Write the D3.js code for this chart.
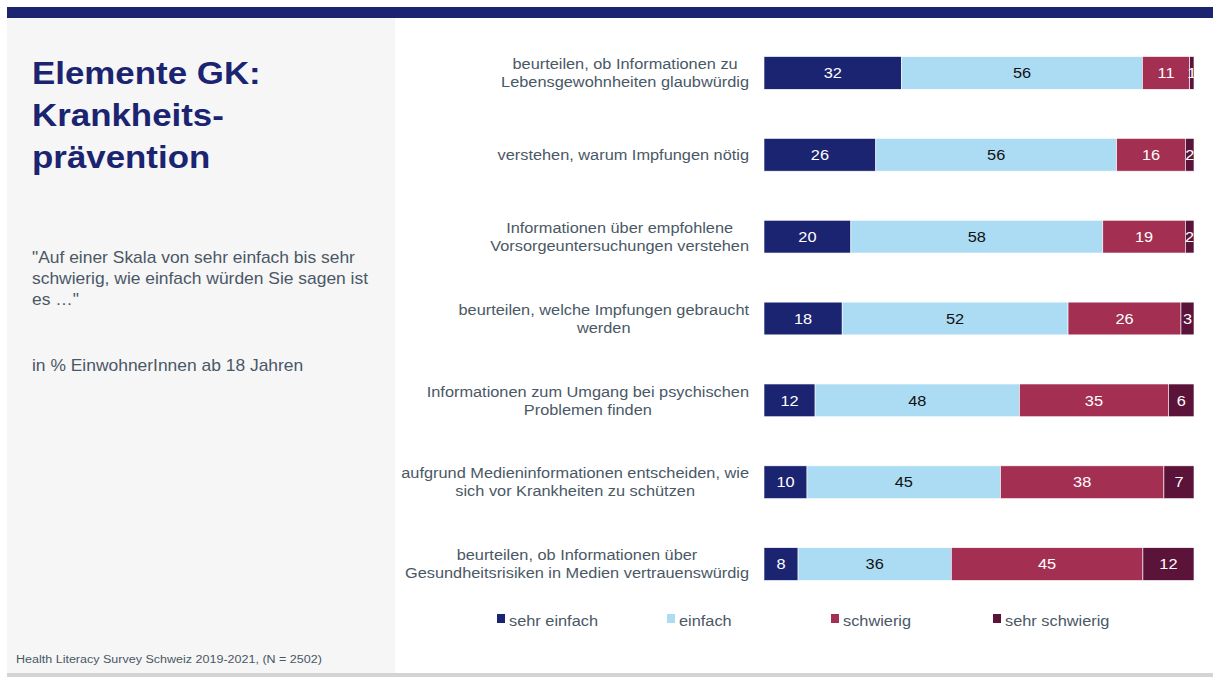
<!DOCTYPE html>
<html>
<head>
<meta charset="utf-8">
<script src="https://cdn.jsdelivr.net/npm/d3@7"></script>
<style>
  body { margin: 0; background: #fff; }
  svg { display: block; font-family: "Liberation Sans", Arial, sans-serif; }
</style>
</head>
<body>
<svg id="chart" width="1213" height="677"></svg>
<script>
// data
const categories = [
  ["beurteilen, ob Informationen zu", "Lebensgewohnheiten glaubwürdig"],
  ["verstehen, warum Impfungen nötig"],
  ["Informationen über empfohlene", "Vorsorgeuntersuchungen verstehen"],
  ["beurteilen, welche Impfungen gebraucht", "werden"],
  ["Informationen zum Umgang bei psychischen", "Problemen finden"],
  ["aufgrund Medieninformationen entscheiden, wie", "sich vor Krankheiten zu schützen"],
  ["beurteilen, ob Informationen über", "Gesundheitsrisiken in Medien vertrauenswürdig"]
];
const seriesNames = ["sehr einfach", "einfach", "schwierig", "sehr schwierig"];
const sehrEinfach = [32, 26, 20, 18, 12, 10, 8];
const einfach = [56, 56, 58, 52, 48, 45, 36];
const schwierig = [11, 16, 19, 26, 35, 38, 45];
const sehrSchwierig = [1, 2, 2, 3, 6, 7, 12];
const colors = ["#1b2470", "#acdcf3", "#a33053", "#5c1339"];
const labelColors = ["#fff", "#111", "#fff", "#fff"];

const textColor = "#4a5866";
const stretch = 1.09; // reference text is a bit wider than Liberation Sans
const svg = d3.select("#chart");

// a text anchored at (x, y), stretched horizontally
const stext = (parent, x, y) =>
  parent.append("g")
    .attr("transform", `translate(${x},${y}) scale(${stretch},1)`)
    .append("text");

// frame
svg.append("rect").attr("x", 7).attr("y", 18).attr("width", 388).attr("height", 655).attr("fill", "#f6f6f6");
svg.append("rect").attr("x", 7).attr("y", 7).attr("width", 1206).attr("height", 11).attr("fill", "#1b2470");
svg.append("rect").attr("x", 7).attr("y", 673).attr("width", 1206).attr("height", 4).attr("fill", "#d4d4d4");

// left panel text
const title = stext(svg, 32, 84)
  .attr("fill", "#1b2470")
  .attr("font-size", 32)
  .attr("font-weight", "bold");
["Elemente GK:", "Krankheits-", "prävention"].forEach((t, i) => {
  title.append("tspan").attr("x", 0).attr("dy", i === 0 ? 0 : 42).text(t);
});

const quote = stext(svg, 32, 263)
  .attr("fill", textColor)
  .attr("font-size", 16);
["\"Auf einer Skala von sehr einfach bis sehr", "schwierig, wie einfach würden Sie sagen ist", "es …\""].forEach((t, i) => {
  quote.append("tspan").attr("x", 0).attr("dy", i === 0 ? 0 : 21).text(t);
});

stext(svg, 32, 371)
  .attr("fill", textColor)
  .attr("font-size", 16)
  .text("in % EinwohnerInnen ab 18 Jahren");

stext(svg, 16, 663)
  .attr("fill", textColor)
  .attr("font-size", 11.5)
  .text("Health Literacy Survey Schweiz 2019-2021, (N = 2502)");

// chart
const rows = categories.map((c, i) => ({
  idx: i,
  "sehr einfach": sehrEinfach[i],
  "einfach": einfach[i],
  "schwierig": schwierig[i],
  "sehr schwierig": sehrSchwierig[i]
}));

const stacked = d3.stack()
  .keys(seriesNames)
  .offset(d3.stackOffsetExpand)(rows);

const x = d3.scaleLinear().domain([0, 1]).range([764, 1194]);
const y = d3.scaleBand()
  .domain(d3.range(categories.length))
  .range([32, 605])
  .paddingInner(0.6)
  .paddingOuter(0.3);

const barG = svg.append("g");
const layers = barG.selectAll("g")
  .data(stacked)
  .join("g")
  .attr("fill", (d, i) => colors[i]);

layers.selectAll("rect")
  .data(d => d)
  .join("rect")
  .attr("x", d => x(d[0]))
  .attr("y", d => y(d.data.idx))
  .attr("width", d => x(d[1]) - x(d[0]))
  .attr("height", y.bandwidth())
  .attr("stroke", "#fff")
  .attr("stroke-width", 0.6);

stacked.forEach((layer, li) => {
  layer.forEach(d => {
    stext(barG, (x(d[0]) + x(d[1])) / 2, y(d.data.idx) + y.bandwidth() / 2)
      .attr("dy", "0.35em")
      .attr("text-anchor", "middle")
      .attr("font-size", 15)
      .attr("fill", labelColors[li])
      .text(d.data[layer.key]);
  });
});

// category labels: centred block, right edge at x = 749
categories.forEach((lines, i) => {
  const cy = y(i) + y.bandwidth() / 2;
  const start = -(lines.length - 1) * 9;
  const t = stext(svg, 749, cy)
    .attr("font-size", 15)
    .attr("fill", textColor)
    .attr("text-anchor", "middle");
  const spans = lines.map((l, j) =>
    t.append("tspan").attr("y", start + j * 18).attr("dy", "0.35em").text(l));
  const maxW = d3.max(spans, s => s.node().getComputedTextLength());
  spans.forEach(s => s.attr("x", -maxW / 2));
});

// legend
const legendX = [497, 667, 831, 993];
seriesNames.forEach((name, i) => {
  svg.append("rect")
    .attr("x", legendX[i]).attr("y", 614)
    .attr("width", 8).attr("height", 9)
    .attr("fill", colors[i]);
  stext(svg, legendX[i] + 12, 621)
    .attr("dy", "0.35em")
    .attr("font-size", 15)
    .attr("fill", textColor)
    .text(name);
});
</script>
</body>
</html>
